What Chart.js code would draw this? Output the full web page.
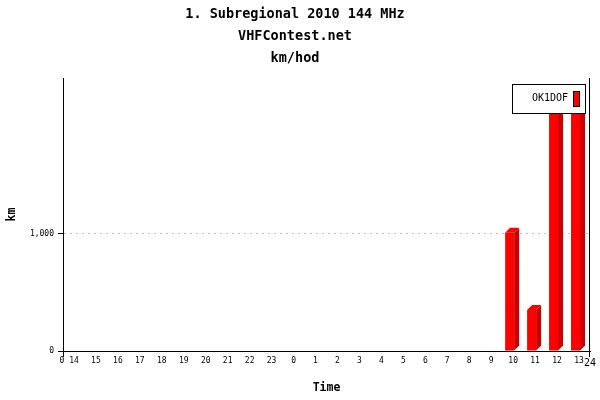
<!DOCTYPE html>
<html>
<head>
<meta charset="utf-8">
<script src="https://cdn.jsdelivr.net/npm/chart.js@4.4.0/dist/chart.umd.min.js"></script>
<style>
  html, body { margin: 0; padding: 0; background: #fff; }
  canvas { display: block; }
</style>
</head>
<body>
<canvas id="chart" width="600" height="400"></canvas>
<script>
// --- DATA ---
const TITLE_LINES = ['1. Subregional 2010 144 MHz', 'VHFContest.net', 'km/hod'];
const HOURS = ['14', '15', '16', '17', '18', '19', '20', '21', '22', '23',
               '0', '1', '2', '3', '4', '5', '6', '7', '8', '9',
               '10', '11', '12', '13'];
const KM_PER_HOUR = [0, 0, 0, 0, 0, 0, 0, 0, 0, 0,
                     0, 0, 0, 0, 0, 0, 0, 0, 0, 0,
                     1010, 350, 2240, 2240];
const SERIES_LABEL = 'OK1DOF';
const Y_TICKS = [0, 1000];
const Y_MAX = 2333;
const X_END_LABELS = ['0', '24'];

// --- STYLE ---
const FONT = "'DejaVu Sans Mono', 'Liberation Mono', monospace";
const FRONT = '#ff0000';
const SIDE = '#cc0000';
const DEPTH = 5;     // 3d extrusion in px
const SHIFT = -3.5;  // front face sits left of the category centre

// fake 3d bars: shift the front faces, then add top and side faces
const bar3d = {
    id: 'bar3d',
    beforeDatasetsDraw(chart) {
        chart.ctx.save();
        chart.ctx.translate(SHIFT, 0);
    },
    afterDatasetsDraw(chart) {
        const ctx = chart.ctx;
        ctx.restore();
        const area = chart.chartArea;
        const meta = chart.getDatasetMeta(0);
        ctx.save();
        ctx.beginPath();
        ctx.rect(area.left, area.top, area.right - area.left, area.bottom - area.top);
        ctx.clip();
        meta.data.forEach((bar, i) => {
            if (!KM_PER_HOUR[i]) return;
            const p = bar.getProps(['x', 'y', 'base', 'width'], true);
            const l = p.x - p.width / 2 + SHIFT;
            const r = p.x + p.width / 2 + SHIFT;
            // top
            ctx.fillStyle = FRONT;
            ctx.beginPath();
            ctx.moveTo(l, p.y);
            ctx.lineTo(l + DEPTH, p.y - DEPTH);
            ctx.lineTo(r + DEPTH, p.y - DEPTH);
            ctx.lineTo(r, p.y);
            ctx.closePath();
            ctx.fill();
            // side
            ctx.fillStyle = SIDE;
            ctx.beginPath();
            ctx.moveTo(r, p.y);
            ctx.lineTo(r + DEPTH, p.y - DEPTH);
            ctx.lineTo(r + DEPTH, p.base - DEPTH);
            ctx.lineTo(r, p.base);
            ctx.closePath();
            ctx.fill();
        });
        ctx.restore();
    }
};

// axis end marks, "0" / "24" end labels and the boxed legend
const decorations = {
    id: 'decorations',
    afterDraw(chart) {
        const ctx = chart.ctx;
        const a = chart.chartArea;
        ctx.save();
        ctx.strokeStyle = '#000';
        ctx.lineWidth = 1;
        ctx.beginPath();
        ctx.moveTo(Math.round(a.left) + 0.5, a.bottom);
        ctx.lineTo(Math.round(a.left) + 0.5, a.bottom + 6);
        ctx.moveTo(Math.round(a.right) - 0.5, a.top);
        ctx.lineTo(Math.round(a.right) - 0.5, a.bottom + 6);
        ctx.stroke();

        ctx.fillStyle = '#000';
        ctx.font = '8px ' + FONT;
        ctx.textAlign = 'center';
        ctx.textBaseline = 'middle';
        ctx.fillText(X_END_LABELS[0], a.left - 1, a.bottom + 10);
        ctx.font = '10px ' + FONT;
        ctx.fillText(X_END_LABELS[1], a.right, a.bottom + 12);

        // legend
        const bx = a.right - 78, by = a.top + 6, bw = 74, bh = 30;
        ctx.fillStyle = '#fff';
        ctx.fillRect(bx, by, bw, bh);
        ctx.strokeRect(bx + 0.5, by + 0.5, bw - 1, bh - 1);
        ctx.fillStyle = '#000';
        ctx.font = '10px ' + FONT;
        ctx.textAlign = 'right';
        ctx.fillText(SERIES_LABEL, bx + 56, by + 14);
        ctx.fillStyle = FRONT;
        ctx.fillRect(bx + 61, by + 7, 7, 16);
        ctx.strokeRect(bx + 61.5, by + 7.5, 6, 15);
        ctx.restore();
    }
};

new Chart(document.getElementById('chart'), {
    type: 'bar',
    data: {
        labels: HOURS,
        datasets: [{
            label: SERIES_LABEL,
            data: KM_PER_HOUR,
            backgroundColor: FRONT,
            borderWidth: 0,
            barPercentage: 0.41,
            categoryPercentage: 1.0
        }]
    },
    options: {
        responsive: false,
        animation: false,
        layout: { padding: { left: 0, right: 10, top: 0, bottom: 0 } },
        plugins: {
            legend: { display: false },
            tooltip: { enabled: false },
            title: {
                display: true,
                text: TITLE_LINES,
                color: '#000',
                font: { family: FONT, size: 13.5, weight: 'bold', lineHeight: '22px' },
                padding: { top: 3, bottom: 9 }
            }
        },
        scales: {
            x: {
                grid: { display: false, drawTicks: false },
                border: { display: true, color: '#000', width: 1 },
                ticks: {
                    color: '#000',
                    font: { family: FONT, size: 8 },
                    padding: 5,
                    autoSkip: false,
                    maxRotation: 0
                },
                title: {
                    display: true,
                    text: 'Time',
                    color: '#000',
                    font: { family: FONT, size: 11.5, weight: 'bold' },
                    padding: { top: 5, bottom: 5 }
                },
                afterFit(scale) { scale.height = 49; }
            },
            y: {
                min: 0,
                max: Y_MAX,
                afterBuildTicks(scale) { scale.ticks = Y_TICKS.map(v => ({ value: v })); },
                grid: {
                    color: ctx => (ctx.tick && ctx.tick.value === 1000 ? '#c0c0c0' : 'rgba(0,0,0,0)'),
                    tickColor: '#000',
                    tickLength: 5
                },
                border: { display: true, color: '#000', width: 1, dash: [2, 4] },
                ticks: {
                    color: '#000',
                    font: { family: FONT, size: 8 },
                    padding: 4
                },
                title: {
                    display: true,
                    text: 'km',
                    color: '#000',
                    font: { family: FONT, size: 11.5, weight: 'bold' },
                    padding: { top: 5, bottom: 5 }
                },
                afterFit(scale) { scale.width = 63; }
            }
        }
    },
    plugins: [bar3d, decorations]
});
</script>
</body>
</html>
